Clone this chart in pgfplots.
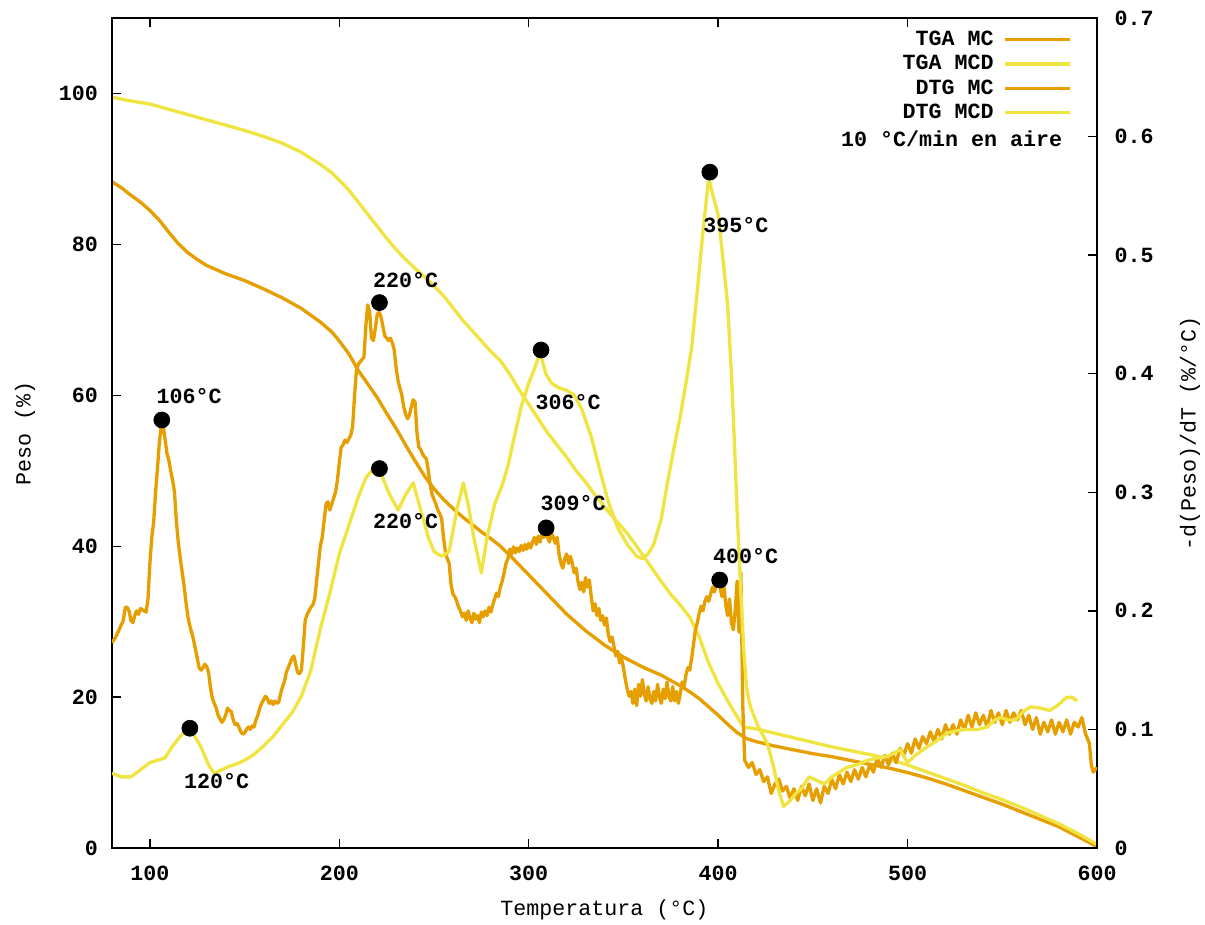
\documentclass[border=0pt]{standalone}
\usepackage{fontspec}
\setmainfont{Liberation Mono}
\usepackage{pgfplots}
\pgfplotsset{compat=1.18}
\definecolor{gporange}{HTML}{E69F00}
\definecolor{gpyellow}{HTML}{F0E442}
\newcommand{\gpfont}{\fontsize{13}{15}\selectfont\bfseries}
\pgfplotsset{
 common/.style={
  width=591pt, height=498pt, scale only axis,
  xmin=80, xmax=600,
  tick align=inside,
  major tick length=5.5pt,
  tick style={black, line width=0.8pt},
  axis line style={black, line width=1pt},
  /pgf/number format/assume math mode=true,
  ticklabel style={font=\gpfont},
  label style={font=\fontsize{13}{15}\selectfont},
 }
}
\begin{document}
\begin{tikzpicture}
\begin{axis}[common, name=ax,
  ymin=0, ymax=110,
  ytick={0,20,40,60,80,100},
  xtick={100,200,300,400,500,600},
  ytick pos=left, xtick pos=both, xticklabel pos=bottom,
  yticklabel style={xshift=-5pt},
  xticklabel style={yshift=-7pt},
  xlabel={Temperatura (°C)},
  ylabel={Peso (\%)},
  xlabel style={at={(axis description cs:0.5,-0.0747)}, anchor=center},
  ylabel style={at={(axis description cs:-0.0883,0.5)}, anchor=center, rotate=0},
]
% TGA MC
\addplot[gporange, line width=2pt] table {
80 88.3
85 87.5
90 86.5
95 85.6
100 84.5
105 83.2
110 81.6
115 80.1
120 78.9
125 78.0
130 77.2
140 76.1
150 75.2
160 74.1
170 72.9
180 71.5
190 69.7
196 68.4
200 67.2
205 65.5
210 63.3
215 61.5
220 59.7
225 57.6
230 55.6
235 53.4
240 51.3
245 49.3
250 47.6
255 46.2
260 45.0
265 43.9
270 42.9
275 41.9
280 41.0
285 40.0
290 38.8
295 37.5
300 36.2
305 34.9
310 33.6
320 31.0
330 28.8
340 26.9
350 25.3
360 24.0
370 22.9
380 21.5
385 20.7
390 19.8
395 18.7
400 17.6
405 16.4
410 15.3
415 14.5
420 14.1
430 13.5
440 13.0
450 12.5
460 12.1
470 11.6
480 11.1
490 10.6
500 10.0
510 9.3
520 8.5
530 7.6
540 6.7
550 5.8
560 4.8
570 3.8
580 2.8
590 1.5
600 0.2
};
% TGA MCD
\addplot[gpyellow, line width=2pt] table {
80 99.5
90 99.0
100 98.6
110 97.9
120 97.2
130 96.5
140 95.8
150 95.1
160 94.3
170 93.4
180 92.2
190 90.6
196 89.5
200 88.5
205 87.2
210 85.6
215 84.0
220 82.4
225 80.8
230 79.3
235 78.0
240 76.8
245 75.7
250 74.5
255 73.2
260 71.6
265 70.0
270 68.6
275 67.2
280 65.8
285 64.6
290 62.8
295 60.7
300 58.8
305 56.9
310 55.0
315 53.4
320 51.8
325 50.0
330 48.5
335 46.8
340 45.2
345 43.7
350 42.3
355 40.7
360 38.9
365 37.1
370 35.3
375 33.6
380 32.2
385 30.6
390 28.0
395 24.5
400 21.8
405 19.5
410 17.4
413.5 16.0
417 15.9
420 15.8
430 15.2
440 14.6
450 14.0
460 13.4
470 12.9
480 12.4
490 11.8
500 11.0
510 10.1
520 9.2
530 8.3
540 7.3
550 6.4
560 5.4
570 4.3
580 3.2
590 1.9
600 0.5
};
\end{axis}
\begin{axis}[common,
  ymin=0, ymax=0.7,
  ytick={0,0.1,0.2,0.3,0.4,0.5,0.6,0.7},
  xtick=\empty,
  ytick pos=right, yticklabel pos=right,
  yticklabel style={xshift=7pt, /pgf/number format/fixed, /pgf/number format/precision=1},
  ylabel={-d(Peso)/dT (\%/°C)},
  ylabel style={at={(axis description cs:1.0944,0.5)}, anchor=center, rotate=0},
  legend plot pos=right,
  legend cell align=right,
  legend image code/.code={\draw[#1] (0pt,0pt) -- (39pt,0pt);},
  legend style={draw=none, fill=none, inner sep=0pt, outer sep=0pt,
    at={(axis description cs:0.9746,0.988)}, anchor=north east,
    font=\gpfont, column sep=5pt, row sep=0.6pt,
    nodes={inner sep=1pt, text height=9.5pt, text depth=2.5pt}},
]
\addlegendimage{gporange, line width=2pt}
\addlegendentry{TGA MC}
\addlegendimage{gpyellow, line width=2pt}
\addlegendentry{TGA MCD}
% DTG MC
\addplot[gporange, line width=2pt, line join=round] table {
80 0.173
82 0.178
84 0.185
86 0.192
87 0.203
88 0.203
89 0.200
90 0.192
91 0.190
92 0.196
93 0.200
94 0.197
95 0.202
96 0.201
97 0.200
98 0.199
99 0.210
100 0.240
101 0.262
102 0.275
103 0.300
104 0.320
105 0.342
106 0.356
107 0.356
108 0.345
109 0.333
110 0.327
111 0.318
112 0.310
113 0.300
114 0.275
115 0.258
116 0.245
117 0.233
118 0.222
119 0.208
120 0.196
121 0.188
122 0.182
123 0.176
124 0.168
125 0.160
126 0.152
127 0.150
128 0.152
129 0.155
130 0.153
131 0.148
132 0.135
133 0.126
134 0.122
135 0.118
136 0.112
137 0.109
138 0.106
139 0.108
140 0.112
141 0.118
142 0.116
143 0.115
144 0.108
145 0.104
146 0.105
147 0.102
148 0.098
149 0.096
150 0.097
151 0.100
152 0.102
153 0.100
154 0.103
155 0.102
156 0.108
157 0.112
158 0.118
159 0.122
160 0.125
161 0.128
162 0.126
163 0.122
164 0.124
165 0.121
166 0.124
167 0.122
168 0.123
169 0.130
170 0.136
171 0.140
172 0.148
173 0.152
174 0.156
175 0.160
176 0.162
177 0.155
178 0.148
179 0.147
180 0.150
181 0.170
182 0.192
183 0.197
184 0.200
185 0.203
186 0.205
187 0.210
188 0.225
189 0.240
190 0.255
191 0.262
192 0.276
193 0.290
194 0.292
195 0.285
196 0.290
197 0.295
198 0.300
199 0.310
200 0.325
201 0.338
202 0.340
203 0.344
204 0.342
205 0.345
206 0.348
207 0.355
208 0.380
209 0.402
210 0.408
211 0.410
212 0.412
213 0.414
214 0.440
215 0.458
216 0.452
217 0.430
218 0.428
219 0.438
220 0.450
221 0.452
222 0.448
223 0.440
224 0.432
225 0.430
226 0.428
227 0.430
228 0.426
229 0.420
230 0.405
231 0.394
232 0.388
233 0.382
234 0.372
235 0.366
236 0.362
237 0.365
238 0.372
239 0.378
240 0.376
241 0.350
242 0.338
243 0.336
244 0.332
245 0.330
246 0.328
247 0.318
248 0.306
249 0.298
250 0.294
251 0.290
252 0.285
253 0.282
254 0.278
255 0.262
256 0.250
257 0.244
258 0.240
259 0.222
260 0.214
261 0.212
262 0.208
263 0.203
264 0.200
265 0.195
266 0.198
267 0.192
268 0.200
269 0.194
270 0.190
271 0.198
272 0.193
273 0.196
274 0.190
275 0.199
276 0.195
277 0.200
278 0.196
279 0.203
280 0.199
281 0.205
282 0.210
283 0.215
284 0.212
285 0.220
286 0.225
287 0.232
288 0.240
289 0.244
290 0.252
291 0.248
292 0.254
293 0.249
294 0.253
295 0.250
296 0.255
297 0.251
298 0.256
299 0.252
300 0.257
301 0.253
302 0.258
303 0.262
304 0.256
305 0.263
306 0.258
307 0.265
308 0.262
309 0.268
310 0.262
311 0.258
312 0.266
313 0.262
314 0.257
315 0.262
316 0.248
317 0.240
318 0.236
319 0.244
320 0.248
321 0.240
322 0.246
323 0.240
324 0.232
325 0.236
326 0.225
327 0.218
328 0.224
329 0.216
330 0.228
331 0.220
332 0.226
333 0.212
334 0.200
335 0.206
336 0.196
337 0.202
338 0.192
339 0.196
340 0.188
341 0.194
342 0.180
343 0.174
344 0.178
345 0.170
346 0.162
347 0.166
348 0.156
349 0.160
350 0.152
351 0.142
352 0.134
353 0.128
354 0.132
355 0.122
356 0.134
357 0.120
358 0.138
359 0.128
360 0.142
361 0.130
362 0.124
363 0.136
364 0.126
365 0.122
366 0.132
367 0.124
368 0.138
369 0.128
370 0.122
371 0.134
372 0.126
373 0.140
374 0.128
375 0.124
376 0.136
377 0.124
378 0.132
379 0.122
380 0.130
381 0.140
382 0.136
383 0.146
384 0.152
385 0.150
386 0.160
387 0.172
388 0.184
389 0.190
390 0.198
391 0.204
392 0.200
393 0.208
394 0.212
395 0.208
396 0.214
397 0.220
398 0.216
399 0.222
400 0.226
401 0.220
402 0.212
403 0.222
404 0.205
405 0.196
406 0.210
407 0.190
408 0.184
409 0.200
410 0.225
411 0.182
412 0.232
413 0.120
414 0.074
416 0.068
418 0.072
420 0.062
422 0.066
424 0.056
426 0.060
428 0.046
430 0.054
432 0.058
434 0.048
436 0.052
438 0.042
440 0.050
442 0.040
444 0.052
446 0.044
448 0.054
450 0.040
452 0.050
454 0.038
456 0.052
458 0.046
460 0.058
462 0.050
464 0.062
466 0.054
468 0.064
470 0.056
472 0.066
474 0.058
476 0.068
478 0.060
480 0.070
482 0.064
484 0.076
486 0.068
488 0.078
490 0.070
492 0.080
494 0.072
496 0.084
498 0.078
500 0.088
502 0.080
504 0.092
506 0.084
508 0.094
510 0.088
512 0.098
514 0.090
516 0.100
518 0.092
520 0.104
522 0.096
524 0.104
526 0.096
528 0.108
530 0.100
532 0.112
534 0.102
536 0.114
538 0.104
540 0.112
542 0.102
544 0.116
546 0.106
548 0.114
550 0.104
552 0.116
554 0.106
556 0.114
558 0.108
560 0.116
562 0.104
564 0.112
566 0.100
568 0.110
570 0.096
572 0.106
574 0.098
576 0.108
578 0.096
580 0.106
582 0.098
584 0.108
586 0.096
588 0.106
590 0.102
592 0.110
594 0.096
596 0.088
597 0.070
598 0.064
600 0.068
};
\addlegendentry{DTG MC}
% DTG MCD
\addplot[gpyellow, line width=2pt, line join=round] table {
80 0.063
85 0.060
90 0.060
95 0.066
100 0.072
104 0.074
108 0.076
112 0.086
116 0.094
120 0.100
123 0.096
127 0.085
131 0.070
134 0.063
138 0.066
142 0.069
146 0.071
150 0.074
155 0.079
160 0.086
165 0.094
170 0.104
175 0.114
180 0.128
185 0.150
190 0.185
195 0.215
200 0.248
205 0.272
210 0.296
214 0.312
218 0.320
222 0.316
226 0.300
231 0.285
235 0.298
239 0.308
243 0.285
247 0.262
250 0.250
254 0.246
258 0.250
262 0.285
265.5 0.308
268 0.290
271 0.262
275 0.232
278 0.262
282 0.290
286 0.306
289 0.322
292 0.344
296 0.372
300 0.392
303 0.404
306 0.418
309 0.400
312 0.392
316 0.388
320 0.386
324 0.382
328 0.370
333 0.347
337 0.322
342 0.292
347 0.270
352 0.256
357 0.246
360 0.244
363 0.248
366 0.256
370 0.278
373 0.306
377 0.340
380 0.364
383 0.392
386 0.422
389 0.470
392 0.520
395 0.565
397 0.552
400 0.534
403 0.490
405 0.458
407 0.400
408 0.364
410 0.285
412 0.215
413.5 0.167
415 0.135
417 0.119
421 0.103
424 0.094
426 0.088
429 0.070
432 0.048
434.6 0.035
438 0.040
441 0.046
444 0.050
448 0.060
452 0.057
456 0.054
460 0.060
464 0.064
468 0.068
473 0.070
479 0.074
484 0.076
489 0.077
493 0.080
496 0.083
500 0.072
504 0.078
510 0.085
515 0.090
521 0.097
526 0.099
531 0.100
537 0.100
542 0.102
546 0.108
549 0.110
553 0.108
557 0.108
561 0.115
565 0.119
570 0.118
575 0.116
579 0.120
584 0.127
587 0.127
589.5 0.124
};
\addlegendentry{DTG MCD}
% peak markers
\addplot[only marks, mark=*, mark size=4.8pt, black, forget plot] table {
106.3 0.361
121.1 0.101
221.2 0.460
221.2 0.320
306.5 0.420
309.2 0.270
395.6 0.570
400.8 0.226
};
\node[font=\gpfont] at (axis cs:120.7,0.381) {106°C};
\node[font=\gpfont] at (axis cs:135.3,0.0565) {120°C};
\node[font=\gpfont] at (axis cs:235.0,0.479) {220°C};
\node[font=\gpfont] at (axis cs:235.0,0.276) {220°C};
\node[font=\gpfont] at (axis cs:320.8,0.376) {306°C};
\node[font=\gpfont] at (axis cs:323.4,0.291) {309°C};
\node[font=\gpfont] at (axis cs:409.3,0.525) {395°C};
\node[font=\gpfont] at (axis cs:414.5,0.246) {400°C};
\node[font=\gpfont, anchor=east] at (axis description cs:0.9706,0.855) {10 °C/min en aire};
\end{axis}
\pgfresetboundingbox
\path ([xshift=-67.2pt,yshift=-45.6pt]ax.south west) rectangle ([xshift=64.8pt,yshift=10.8pt]ax.north east);
\end{tikzpicture}
\end{document}
